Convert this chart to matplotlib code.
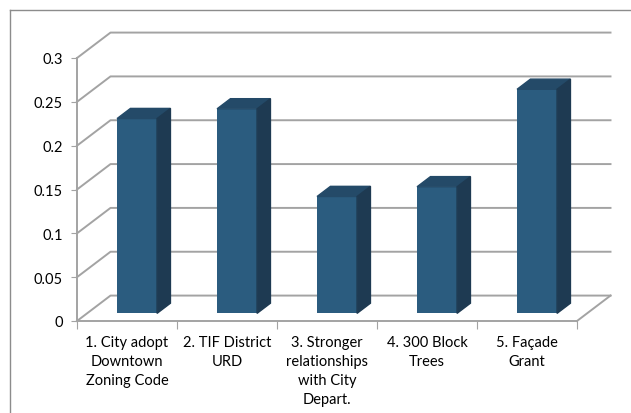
import matplotlib.pyplot as plt
from matplotlib.patches import Polygon
from matplotlib.lines import Line2D

categories = ["1. City adopt\nDowntown\nZoning Code",
              "2. TIF District\nURD",
              "3. Stronger\nrelationships\nwith City\nDepart.",
              "4. 300 Block\nTrees",
              "5. Façade\nGrant"]
values = [0.2222, 0.2333, 0.1333, 0.1444, 0.2556]
yticks = [0, 0.05, 0.1, 0.15, 0.2, 0.25, 0.3]
ytick_labels = ["0", "0.05", "0.1", "0.15", "0.2", "0.25", "0.3"]

plt.rcParams['font.family'] = ['Lato', 'DejaVu Sans']

# depth of the fake 3d box (in data units) and where bars sit inside it
DX, DY = 0.335, 0.029
t_front, t_back = 0.3, 0.7
bar_w = 0.4
grid_c = '#a3a3a3'
front_c, side_c, top_c = '#2b5c7f', '#1e3a52', '#244a68'

fig = plt.figure(figsize=(6.31, 4.14), dpi=100)
ax = fig.add_axes([77 / 631, 92 / 414, 500 / 631, 263 / 414])
ax.set_xlim(0, len(values))
ax.set_ylim(0, 0.3)

n = len(values)
# walls: left diagonals + back gridlines
for y0 in yticks:
    ax.plot([0, DX, n + DX], [y0, y0 + DY, y0 + DY], color=grid_c, lw=1.4,
            clip_on=False, zorder=1)
# floor right edge
ax.plot([n, n + DX], [0, DY], color=grid_c, lw=1.4, clip_on=False, zorder=1)

# bars: front face via bar(), then top and side faces
xs = [i + 0.5 - bar_w / 2 + t_front * DX for i in range(n)]
ax.bar(xs, values, width=bar_w, bottom=t_front * DY, align='edge',
       color=front_c, zorder=3)
d = (t_back - t_front)
for x0, v in zip(xs, values):
    yb = t_front * DY
    yt = v + t_front * DY
    top = Polygon([(x0, yt), (x0 + bar_w, yt),
                   (x0 + bar_w + d * DX, yt + d * DY), (x0 + d * DX, yt + d * DY)],
                  closed=True, color=top_c, zorder=3, clip_on=False)
    side = Polygon([(x0 + bar_w, yb), (x0 + bar_w + d * DX, yb + d * DY),
                    (x0 + bar_w + d * DX, yt + d * DY), (x0 + bar_w, yt)],
                   closed=True, color=side_c, zorder=3, clip_on=False)
    ax.add_patch(top)
    ax.add_patch(side)

# axes styling
for s in ['top', 'right']:
    ax.spines[s].set_visible(False)
for s in ['left', 'bottom']:
    ax.spines[s].set_color(grid_c)
    ax.spines[s].set_linewidth(1.4)

ax.set_yticks(yticks)
ax.set_yticklabels(ytick_labels)
ax.tick_params(axis='y', length=4, color=grid_c, labelsize=10.5, pad=6)

ax.set_xticks(range(n + 1))
ax.set_xticklabels([])
ax.set_xticks([i + 0.5 for i in range(n)], minor=True)
ax.set_xticklabels(categories, minor=True, fontsize=10.5, linespacing=1.45)
ax.tick_params(axis='x', which='major', length=6, color=grid_c)
ax.tick_params(axis='x', which='minor', length=0, pad=10)

# outer chart frame (only left and top edges show)
fig.add_artist(Line2D([10 / 631, 10 / 631], [0, 1 - 11 / 414], color='#8c8c8c', lw=1))
fig.add_artist(Line2D([10 / 631, 1], [1 - 11 / 414, 1 - 11 / 414], color='#8c8c8c', lw=1))

fig.savefig('out.png', dpi=100)
